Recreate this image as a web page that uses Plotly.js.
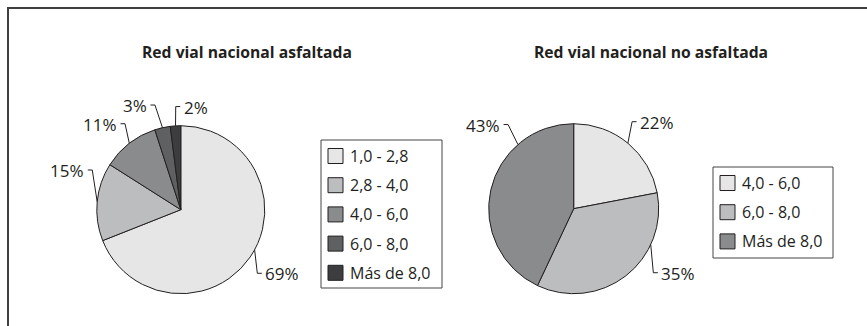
<!DOCTYPE html>
<html>
<head>
<meta charset="utf-8">
<script src="https://cdn.plot.ly/plotly-3.0.1.min.js"></script>
<style>html,body{margin:0;padding:0;background:#fff;}</style>
</head>
<body>
<div id="chart" style="width:867px;height:326px"></div>
<script>
// ---------- DATA ----------
const pavedTitle = 'Red vial nacional asfaltada';
const pavedCategories = ['1,0 - 2,8', '2,8 - 4,0', '4,0 - 6,0', '6,0 - 8,0', 'Más de 8,0'];
const pavedValues = [69, 15, 11, 3, 2];

const unpavedTitle = 'Red vial nacional no asfaltada';
const unpavedCategories = ['4,0 - 6,0', '6,0 - 8,0', 'Más de 8,0'];
const unpavedValues = [22, 35, 43];

// ---------- STYLE / LAYOUT ----------
const W = 867, H = 326;
const INK = '#231f20';
const FONT = 'Open Sans, Noto Sans, sans-serif';
const px = x => x / W;
const py = y => 1 - y / H;

const charts = [
  {
    title: pavedTitle, cats: pavedCategories, vals: pavedValues,
    colors: ['#e6e6e7', '#bcbdbf', '#8a8b8d', '#5f6062', '#3d3d3f'],
    cx: 180.8, cy: 209.7, r: 84,
    titlePos: [247, 52],
    legend: {x: 321, y: 140, w: 121, h: 148},
    // leader lines: optional start angle override, elbow offset from start, side
    leaders: [
      {angle: 118.5, d: [2.7, 23.5], side: 1},
      {d: [-4.9, -31.8], side: -1},
      {d: [-4.3, -19.6], side: -1},
      {d: [-7.5, -22.7], side: -1},
      {d: [0.2, -19.3], side: 1}
    ]
  },
  {
    title: unpavedTitle, cats: unpavedCategories, vals: unpavedValues,
    colors: ['#e6e6e7', '#bcbdbf', '#8a8b8d'],
    cx: 573.7, cy: 208.7, r: 85,
    titlePos: [651, 52],
    legend: {x: 713, y: 167, w: 120, h: 91},
    leaders: [
      {d: [4.2, -21.5], side: 1},
      {angle: 115, d: [2.6, 28.1], side: 1},
      {angle: 319, d: [-9.9, -20], side: -1}
    ]
  }
];

const traces = [];
const shapes = [];
const annotations = [];

// outer frame (only top and left visible in the crop)
shapes.push({type: 'rect', xref: 'paper', yref: 'paper',
  x0: px(8), y0: py(8), x1: px(900), y1: py(360),
  line: {color: '#3f3f3f', width: 2}, fillcolor: 'rgba(0,0,0,0)'});

charts.forEach(c => {
  traces.push({
    type: 'pie', values: c.vals, labels: c.cats,
    sort: false, direction: 'clockwise', rotation: 0,
    textinfo: 'none', textposition: 'none',
    hoverinfo: 'label+percent',
    showlegend: false,
    marker: {colors: c.colors, line: {color: INK, width: 1}},
    domain: {x: [px(c.cx - c.r), px(c.cx + c.r)], y: [py(c.cy + c.r), py(c.cy - c.r)]}
  });

  // title
  annotations.push({xref: 'paper', yref: 'paper', x: px(c.titlePos[0]), y: py(c.titlePos[1]),
    xanchor: 'center', yanchor: 'middle', showarrow: false,
    text: '<b>' + c.title + '</b>', font: {family: FONT, size: 15.7, color: INK}});

  // percentage labels with leader lines
  const total = c.vals.reduce((a, b) => a + b, 0);
  let cum = 0;
  c.vals.forEach((v, i) => {
    const mid = (cum + v / 2) / total * 360;
    cum += v;
    const L = c.leaders[i];
    const ang = (L.angle !== undefined ? L.angle : mid) * Math.PI / 180;
    const sx = c.cx + c.r * Math.sin(ang);
    const sy = c.cy - c.r * Math.cos(ang);
    const ex = sx + L.d[0], ey = sy + L.d[1];
    const tx = ex + L.side * 4.5;
    shapes.push({type: 'path', xref: 'paper', yref: 'paper',
      path: `M ${px(sx)} ${py(sy)} L ${px(ex)} ${py(ey)} L ${px(tx)} ${py(ey)}`,
      line: {color: INK, width: 1}});
    annotations.push({xref: 'paper', yref: 'paper', x: px(tx + L.side * 1.5), y: py(ey + 0.5),
      xanchor: L.side > 0 ? 'left' : 'right', yanchor: 'middle', showarrow: false,
      text: Math.round(v / total * 100) + '%', font: {family: FONT, size: 17, color: INK}});
  });

  // legend box
  const lg = c.legend;
  shapes.push({type: 'rect', xref: 'paper', yref: 'paper',
    x0: px(lg.x), y0: py(lg.y), x1: px(lg.x + lg.w), y1: py(lg.y + lg.h),
    line: {color: '#444', width: 1}, fillcolor: 'rgba(0,0,0,0)'});
  c.cats.forEach((cat, i) => {
    const yc = lg.y + 16 + i * 29.2;
    shapes.push({type: 'rect', xref: 'paper', yref: 'paper',
      x0: px(lg.x + 7), x1: px(lg.x + 22), y0: py(yc - 7.5), y1: py(yc + 7.5),
      line: {color: INK, width: 1}, fillcolor: c.colors[i]});
    annotations.push({xref: 'paper', yref: 'paper', x: px(lg.x + 27), y: py(yc),
      xanchor: 'left', yanchor: 'middle', showarrow: false,
      text: cat, font: {family: FONT, size: 16, color: INK}});
  });
});

const layout = {
  width: W, height: H,
  margin: {l: 0, r: 0, t: 0, b: 0},
  paper_bgcolor: '#ffffff', plot_bgcolor: '#ffffff',
  showlegend: false,
  shapes: shapes, annotations: annotations,
  font: {family: FONT, color: INK}
};

Plotly.newPlot('chart', traces, layout, {displayModeBar: false, staticPlot: true});
</script>
</body>
</html>
